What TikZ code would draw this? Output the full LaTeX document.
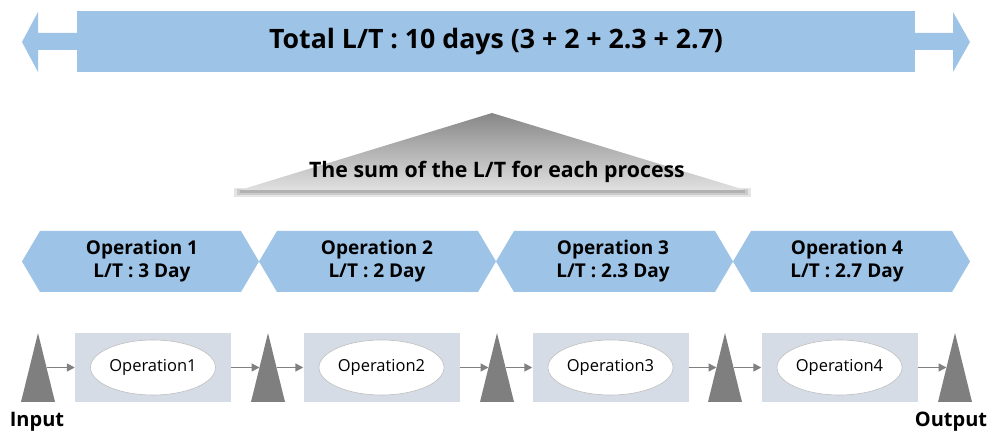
\documentclass[tikz,border=0pt]{standalone}
\usepackage{fontspec}
\setmainfont{Open Sans}
\usetikzlibrary{arrows.meta,shapes.geometric}
\definecolor{bannerblue}{HTML}{9DC3E6}
\definecolor{boxgray}{HTML}{D6DCE5}
\definecolor{trigray}{HTML}{7F7F7F}
\definecolor{arrgray}{HTML}{808080}
\definecolor{ellline}{HTML}{BFBFBF}
\begin{document}
\begin{tikzpicture}[x=1pt,y=-1pt,
  bannerbox/.style={fill=bannerblue,inner sep=0,minimum width=838pt,minimum height=61pt,
    font=\fontsize{26.7}{30}\selectfont\bfseries},
  hextext/.style={align=center,font=\fontsize{19}{23}\selectfont\bfseries},
  procbox/.style={fill=boxgray,inner sep=0,minimum width=156pt,minimum height=69pt},
  opell/.style={ellipse,draw=ellline,fill=white,line width=0.6pt,inner sep=0,
    minimum width=125pt,minimum height=55pt,font=\fontsize{16.5}{19}\selectfont},
  flow/.style={draw=arrgray,line width=1.6pt,-{Triangle[length=8pt,width=8pt]}},
  lbl/.style={font=\fontsize{20}{24}\selectfont\bfseries,inner sep=0}]
\useasboundingbox (0,0) rectangle (996,435);

% top banner
\fill[bannerblue] (22,42) -- (38,12) -- (38,33) -- (77,33) -- (77,50) -- (38,50) -- (38,72) -- cycle;
\fill[bannerblue] (970,42) -- (953,12) -- (953,33) -- (915,33) -- (915,50) -- (953,50) -- (953,72) -- cycle;
\node[bannerbox] (total) at (496,41.5) {Total L/T : 10 days (3 + 2 + 2.3 + 2.7)};

% pyramid with soft shadow
\fill[black!20,opacity=0.5] (234,188) rectangle (751,197);
\fill[black!30,opacity=0.5] (237,189) rectangle (748,195);
\fill[black!40,opacity=0.5] (240,190) rectangle (745,193);
\shade[top color=black!47,bottom color=black!12] (492,113) -- (745,190) -- (240,190) -- cycle;
\node[font=\fontsize{21.3}{25}\selectfont\bfseries,inner sep=0] (sum) at (497,172) {The sum of the L/T for each process};

% hexagons
\foreach \L/\R/\n in {22/259/1,259/496/2,496/733/3,733/970/4}{
  \fill[bannerblue] (\L,261.5) -- (\L+18,231) -- (\R-18,231) -- (\R,261.5) -- (\R-18,292) -- (\L+18,292) -- cycle;
}
\node[hextext] (h1) at (142,261.5) {Operation 1\\L/T : 3 Day};
\node[hextext] (h2) at (377,261.5) {Operation 2\\L/T : 2 Day};
\node[hextext] (h3) at (613,261.5) {Operation 3\\L/T : 2.3 Day};
\node[hextext] (h4) at (847,261.5) {Operation 4\\L/T : 2.7 Day};

% triangles (buffers)
\foreach \x/\n in {38/1,268/2,497/3,725/4,955/5}{
  \fill[trigray] (\x,333) -- (\x+17,402) -- (\x-17,402) -- cycle;
  \coordinate (ti\n) at (\x-8.5,367.5);
  \coordinate (to\n) at (\x+8.5,367.5);
}

% process boxes
\node[procbox] (r1) at (153,367.5) {};
\node[procbox] (r2) at (381.5,367.5) {};
\node[procbox] (r3) at (610.5,367.5) {};
\node[procbox] (r4) at (839.5,367.5) {};
\node[opell] (e1) at (r1.center) {Operation1};
\node[opell] (e2) at (r2.center) {Operation2};
\node[opell] (e3) at (r3.center) {Operation3};
\node[opell] (e4) at (r4.center) {Operation4};

% flow arrows
\draw[flow] (to1) -- (r1.west);
\draw[flow] (r1.east) -- (ti2);
\draw[flow] (to2) -- (r2.west);
\draw[flow] (r2.east) -- (ti3);
\draw[flow] (to3) -- (r3.west);
\draw[flow] (r3.east) -- (ti4);
\draw[flow] (to4) -- (r4.west);
\draw[flow] (r4.east) -- (ti5);

% labels
\node[lbl] (in) at (37,422) {Input};
\node[lbl] (out) at (951,422) {Output};
\end{tikzpicture}
\end{document}
